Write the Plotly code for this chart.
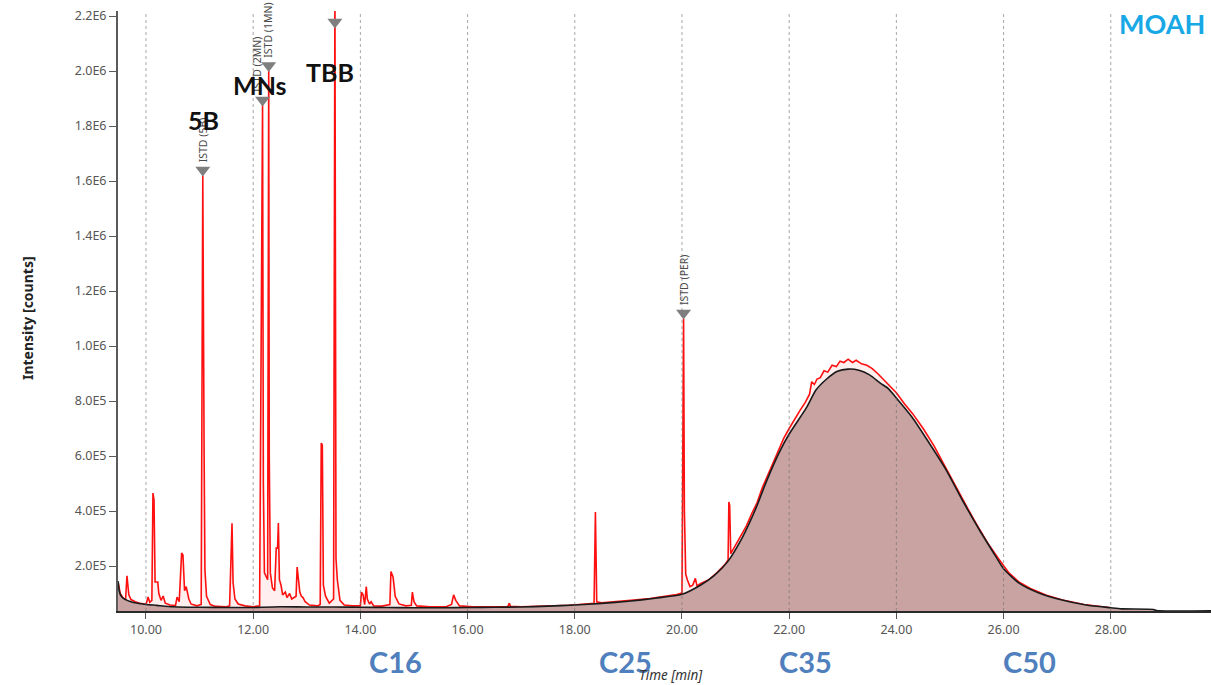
import plotly.graph_objects as go

# ---------------- data ----------------
# red chromatogram trace: retention time [min], intensity [counts, thousands]
red_time = [
    9.48, 9.52, 9.58, 9.62, 9.645, 9.66, 9.68, 9.72, 9.8, 9.9,
    10.0, 10.04, 10.07, 10.11, 10.13, 10.15, 10.17, 10.22, 10.24, 10.28,
    10.32, 10.36, 10.45, 10.55, 10.58, 10.62, 10.665, 10.69, 10.72, 10.75,
    10.78, 10.8, 10.84, 10.95, 11.03, 11.06, 11.085, 11.1, 11.13, 11.2,
    11.3, 11.5, 11.56, 11.585, 11.605, 11.625, 11.66, 11.72, 11.85, 12.0,
    12.12, 12.175, 12.19, 12.21, 12.24, 12.27, 12.29, 12.3, 12.32, 12.36,
    12.4, 12.43, 12.455, 12.47, 12.49, 12.52, 12.55, 12.6, 12.63, 12.68,
    12.72, 12.8, 12.82, 12.845, 12.87, 12.9, 12.93, 12.97, 13.05, 13.2,
    13.25, 13.27, 13.29, 13.31, 13.35, 13.42, 13.5, 13.525, 13.545, 13.57,
    13.62, 13.7, 13.85, 14.0, 14.02, 14.05, 14.08, 14.11, 14.13, 14.17,
    14.2, 14.25, 14.4, 14.55, 14.57, 14.61, 14.65, 14.72, 14.85, 14.95,
    14.97, 15.0, 15.05, 15.3, 15.6, 15.7, 15.74, 15.78, 15.85, 16.1,
    16.5, 16.75, 16.78, 16.8, 17.0, 17.3, 17.6, 17.9, 18.2, 18.36,
    18.385, 18.41, 18.5, 18.8, 19.1, 19.4, 19.7, 19.9, 20.0, 20.02,
    20.03, 20.045, 20.07, 20.1, 20.15, 20.2, 20.25, 20.28, 20.35, 20.5,
    20.65, 20.8, 20.86, 20.875, 20.89, 20.91, 21.0, 21.1, 21.2, 21.3,
    21.4, 21.5, 21.6, 21.7, 21.8, 21.9, 22.0, 22.1, 22.2, 22.3,
    22.38, 22.42, 22.47, 22.52, 22.58, 22.65, 22.72, 22.8, 22.88, 22.95,
    23.02, 23.1, 23.18, 23.25, 23.35, 23.45, 23.55, 23.65, 23.75, 23.85,
    24.0, 24.15, 24.3, 24.5, 24.7, 24.9, 25.1, 25.3, 25.5, 25.7,
    25.9, 26.1, 26.3, 26.5, 26.8, 27.1, 27.5, 28.0,
]
red_kcounts = [
    140, 100, 82, 80, 164, 120, 95, 78, 70, 64,
    60, 87, 68, 75, 465, 440, 142, 142, 100, 75,
    91, 65, 58, 56, 87, 70, 247, 240, 110, 125,
    90, 80, 62, 55, 60, 1620, 600, 185, 90, 60,
    53, 52, 55, 190, 355, 140, 80, 62, 55, 52,
    55, 1880, 500, 175, 160, 150, 2000, 600, 175, 120,
    110, 265, 265, 356, 150, 130, 95, 105, 85, 100,
    80, 90, 196, 150, 105, 90, 85, 70, 58, 55,
    60, 647, 640, 130, 90, 65, 80, 2300, 228, 150,
    75, 58, 55, 55, 105, 95, 60, 125, 80, 62,
    70, 55, 54, 60, 180, 160, 90, 62, 55, 57,
    105, 70, 55, 52, 52, 60, 95, 75, 55, 52,
    52, 52, 65, 53, 52, 54, 55, 57, 62, 64,
    396, 70, 66, 70, 76, 82, 90, 96, 102, 750,
    1100, 400, 170, 150, 125, 130, 155, 128, 137, 150,
    175, 205, 222, 433, 420, 245, 275, 310, 345, 390,
    430, 485, 530, 580, 625, 665, 700, 735, 765, 795,
    825, 870, 860, 880, 885, 910, 905, 930, 925, 945,
    940, 952, 940, 948, 935, 930, 918, 900, 880, 862,
    830, 790, 755, 700, 638, 565, 490, 420, 350, 285,
    228, 175, 140, 118, 94, 76, 60, 48,
]

# black fitted envelope (hump) trace
hump_time = [
    9.48, 9.5, 9.53, 9.58, 9.65, 9.75, 9.9, 10.0, 10.2, 10.5,
    11.0, 11.5, 12.0, 12.15, 12.5, 13.0, 13.5, 14.0, 14.5, 15.0,
    15.5, 16.0, 16.5, 17.0, 17.5, 18.0, 18.5, 19.0, 19.5, 20.0,
    20.35, 20.6, 20.85, 21.13, 21.39, 21.57, 21.82, 22.0, 22.32, 22.5,
    22.7, 22.9, 23.1, 23.3, 23.5, 23.7, 23.85, 24.0, 24.29, 24.6,
    24.93, 25.23, 25.55, 25.86, 26.0, 26.29, 26.66, 27.09, 27.54, 28.0,
    28.2, 28.8, 28.85, 29.87,
]
hump_kcounts = [
    145, 110, 92, 82, 75, 68, 63, 60, 57, 52,
    50, 49, 49, 50, 52, 51, 51, 50, 49, 48,
    48, 49, 50, 51, 54, 58, 64, 72, 83, 97,
    131, 165, 215, 305, 415, 505, 615, 680, 775, 840,
    880, 908, 916, 912, 895, 865, 845, 811, 742, 651,
    549, 440, 331, 233, 190, 138, 102, 76, 58, 48,
    44, 42, 38, 37,
]

# internal-standard markers
istd_names = ["ISTD (5B)", "ISTD (2MN)", "ISTD (1MN)", "ISTD (TBB)", "ISTD (PER)"]
istd_time = [11.06, 12.175, 12.29, 13.525, 20.03]
istd_kcounts = [1640, 1895, 2020, 2178, 1120]

# compound labels
peak_labels = ["5B", "MNs", "TBB"]
peak_label_time = [11.08, 12.12, 13.43]
peak_label_kcounts = [1822, 1949, 1996]

# carbon-number labels below the axis
carbon_labels = ["C16", "C25", "C35", "C50"]
carbon_label_time = [14.65, 18.95, 22.3, 26.48]

x_tick_vals = [10, 12, 14, 16, 18, 20, 22, 24, 26, 28]
x_tick_text = ["10.00", "12.00", "14.00", "16.00", "18.00", "20.00",
               "22.00", "24.00", "26.00", "28.00"]
y_tick_vals = [200000, 400000, 600000, 800000, 1000000, 1200000,
               1400000, 1600000, 1800000, 2000000, 2200000]
y_tick_text = ["2.0E5", "4.0E5", "6.0E5", "8.0E5", "1.0E6", "1.2E6",
               "1.4E6", "1.6E6", "1.8E6", "2.0E6", "2.2E6"]

# ---------------- figure ----------------
red_counts = [v * 1000 for v in red_kcounts]
hump_counts = [v * 1000 for v in hump_kcounts]
istd_counts = [v * 1000 for v in istd_kcounts]

fig = go.Figure()

fig.add_trace(go.Scatter(
    x=red_time, y=red_counts, mode="lines",
    line=dict(color="#ff1010", width=1.6),
    fill="tozeroy", fillcolor="rgba(255,120,120,0.12)",
    hoverinfo="skip", showlegend=False,
))
fig.add_trace(go.Scatter(
    x=hump_time, y=hump_counts, mode="lines",
    line=dict(color="#1a1a1a", width=1.6, shape="spline", smoothing=0.6),
    fill="tozeroy", fillcolor="#c9a2a2",
    hoverinfo="skip", showlegend=False,
))
fig.add_trace(go.Scatter(
    x=istd_time, y=istd_counts, mode="markers",
    marker=dict(symbol="triangle-down", size=13, color="#7f7f7f"),
    hoverinfo="skip", showlegend=False,
))

W, H = 1211, 685
ML, MR, MT, MB = 118, 0, 11, 74

# dotted vertical grid drawn above the filled hump (as in the reference)
grid_shapes = [
    dict(type="line", xref="x", yref="paper", x0=t, x1=t, y0=0, y1=1,
         line=dict(color="rgba(110,110,110,0.6)", width=1, dash="dot"),
         layer="above")
    for t in x_tick_vals
]

annotations = []
# rotated ISTD captions above the triangles (TBB one is off the page)
istd_xshift = [0, -5, -1, 0, 0]
for name, t, v, xs in zip(istd_names, istd_time, istd_counts, istd_xshift):
    if name == "ISTD (TBB)":
        continue
    annotations.append(dict(
        x=t, y=v, xref="x", yref="y", text=name, showarrow=False,
        textangle=-90, xanchor="center", yanchor="bottom", yshift=6, xshift=xs,
        font=dict(family="Noto Sans", size=10.5, color="#4a4a4a"),
    ))
for lab, t, v in zip(peak_labels, peak_label_time, peak_label_kcounts):
    annotations.append(dict(
        x=t, y=v * 1000, xref="x", yref="y", text="<b>%s</b>" % lab,
        showarrow=False, xanchor="center", yanchor="middle",
        font=dict(family="Lato", size=25, color="#111111"),
    ))
for lab, t in zip(carbon_labels, carbon_label_time):
    annotations.append(dict(
        x=t, y=(611 - 661) / 600, xref="x", yref="paper", text="<b>%s</b>" % lab,
        showarrow=False, xanchor="center", yanchor="middle",
        font=dict(family="Lato", size=29, color="#4f7fbd"),
    ))
annotations.append(dict(
    x=(1162 - ML) / (W - ML), y=(611 - 24) / 600, xref="paper", yref="paper",
    text="<b>MOAH</b>", showarrow=False, xanchor="center", yanchor="middle",
    font=dict(family="Lato", size=27, color="#18a8e6"),
))
annotations.append(dict(
    x=(671 - ML) / (W - ML), y=(611 - 675) / 600, xref="paper", yref="paper",
    text="<i>Time [min]</i>", showarrow=False, xanchor="center", yanchor="middle",
    font=dict(family="Noto Sans", size=13.5, color="#333333"),
))
annotations.append(dict(
    x=(27 - ML) / (W - ML), y=(611 - 318) / 600, xref="paper", yref="paper",
    text="<b>Intensity [counts]</b>", showarrow=False, textangle=-90,
    xanchor="center", yanchor="middle",
    font=dict(family="Noto Sans", size=14, color="#222222"),
))

y_bottom = (621 - 611) / 0.000275
y_top = (621 - 11) / 0.000275

fig.update_layout(
    width=W, height=H,
    margin=dict(l=ML, r=MR, t=MT, b=MB),
    paper_bgcolor="white", plot_bgcolor="white",
    showlegend=False,
    annotations=annotations,
    shapes=grid_shapes,
    xaxis=dict(
        range=[9.478, 29.87], tickvals=x_tick_vals, ticktext=x_tick_text,
        showgrid=False,
        zeroline=False, showline=True, linecolor="#2a2a2a", linewidth=2,
        ticks="outside", ticklen=6, tickcolor="#555555", layer="above traces",
        tickfont=dict(family="Noto Sans", size=12.5, color="#555555"),
    ),
    yaxis=dict(
        range=[y_bottom, y_top], tickvals=y_tick_vals, ticktext=y_tick_text,
        showgrid=False, zeroline=False, showline=True,
        linecolor="#5a5a5a", linewidth=2,
        ticks="outside", ticklen=7, tickcolor="#5a5a5a",
        tickfont=dict(family="Noto Sans", size=12.5, color="#555555"),
    ),
)

fig.write_html("out.html")
